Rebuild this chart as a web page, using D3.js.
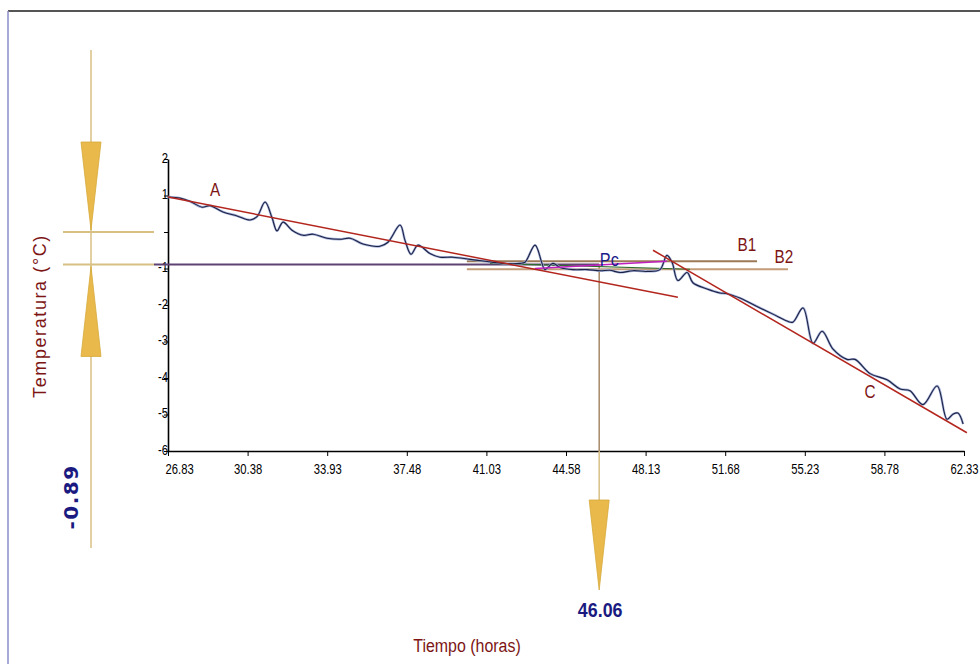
<!DOCTYPE html>
<html>
<head>
<meta charset="utf-8">
<script src="https://cdn.jsdelivr.net/npm/d3@7"></script>
<style>
  body { margin: 0; background: #fff; }
  svg { display: block; }
</style>
</head>
<body>
<div id="chart"></div>
<script>
var width = 980;
var height = 664;

// temperature record (hours, °C)
var tiempo = [26.83, 27.37, 27.81, 28.35, 28.70, 29.28, 29.91, 30.49, 30.80, 31.16,
    31.47, 31.69, 31.96, 32.36, 32.85, 33.30, 33.92, 34.50, 34.95, 35.53,
    36.28, 36.64, 37.18, 37.40, 37.67, 37.98, 38.51, 38.96, 39.54, 40.30,
    41.06, 41.77, 42.53, 42.75, 43.20, 43.51, 43.64, 44.00, 44.31, 44.89,
    45.52, 46.10, 46.54, 46.99, 47.57, 48.19, 48.77, 49.08, 49.31, 49.57,
    49.98, 50.24, 50.87, 51.45, 51.76, 52.34, 53.23, 53.81, 54.44, 54.70,
    55.15, 55.60, 56.00, 56.49, 57.11, 57.47, 58.14, 58.90, 59.48, 59.92,
    60.50, 61.13, 61.57, 61.84, 62.06, 62.29];
var temperatura = [0.96, 0.93, 0.84, 0.68, 0.72, 0.55, 0.44, 0.33, 0.42, 0.82,
    0.39, 0.03, 0.27, 0.05, -0.09, -0.06, -0.17, -0.20, -0.17, -0.33,
    -0.39, -0.28, 0.19, -0.23, -0.61, -0.36, -0.59, -0.69, -0.69, -0.75,
    -0.81, -0.86, -0.86, -0.83, -0.36, -0.86, -1.03, -0.86, -0.97, -1.03,
    -1.03, -1.06, -1.05, -1.11, -1.06, -1.08, -1.03, -0.64, -0.83, -1.33,
    -1.11, -1.39, -1.56, -1.67, -1.69, -1.81, -2.08, -2.25, -2.44, -2.47,
    -2.08, -3.05, -2.72, -3.21, -3.49, -3.49, -3.88, -4.05, -4.30, -4.35,
    -4.73, -4.22, -5.13, -4.99, -4.96, -5.26];

// fitted segments
var rectaA = [[26.83, 0.96], [49.57, -1.79]];
var rectaB1 = [[40.16, -0.80], [53.10, -0.80]];
var rectaB2 = [[40.16, -1.02], [54.48, -1.02]];
var rectaC = [[48.46, -0.50], [62.46, -5.50]];
var rectaMagenta = [[43.20, -1.00], [49.08, -0.80]];
var rectaVerde = [[41.19, -0.86], [50.11, -1.02]];

// critical point
var pcX = 46.06;
var pcY = -0.89;

var xTicks = [26.83, 30.38, 33.93, 37.48, 41.03, 44.58, 48.13, 51.68, 55.23, 58.78, 62.33];
var yTicks = [-6, -5, -4, -3, -2, -1, 0, 1, 2];

var svg = d3.select("#chart").append("svg")
    .attr("width", width)
    .attr("height", height);

var x = d3.scaleLinear().domain([26.83, 62.33]).range([168, 964]);
var y = d3.scaleLinear().domain([-6, 2]).range([451, 159]);

var font = "'Liberation Sans', Arial, sans-serif";

// frame
svg.append("line").attr("x1", 8).attr("x2", width).attr("y1", 11).attr("y2", 11)
    .attr("stroke", "#555").attr("stroke-width", 2);
svg.append("line").attr("x1", 8).attr("x2", 8).attr("y1", 11).attr("y2", height)
    .attr("stroke", "#8c8cc8").attr("stroke-width", 1.5);

// axes (narrow labels: squeeze horizontally)
var yAxis = svg.append("g")
    .attr("transform", "translate(" + x(26.83) + ",0)")
    .call(d3.axisLeft(y).tickValues(yTicks).tickSize(4).tickSizeOuter(0)
        .tickFormat(function(d){ return d === 0 ? "" : String(d); }));
yAxis.selectAll("text").attr("x", 0).attr("dy", "0.2em")
    .attr("font-family", font).attr("font-size", 15).attr("fill", "#000")
    .attr("transform", "translate(0,0) scale(0.75,1)");

var xAxis = svg.append("g")
    .attr("transform", "translate(0," + y(-6) + ")")
    .call(d3.axisBottom(x).tickValues(xTicks).tickSize(5).tickSizeOuter(0)
        .tickFormat(d3.format(".2f")));
xAxis.selectAll("text").attr("y", 8).attr("dy", "1em")
    .attr("font-family", font).attr("font-size", 15).attr("fill", "#000")
    .attr("transform", "scale(0.75,1)");
// first label sits to the right of its tick
xAxis.selectAll("text").filter(function(d){ return d === xTicks[0]; })
    .attr("text-anchor", "start").attr("x", -4);

svg.selectAll(".domain").attr("stroke", "#000").attr("stroke-width", 1.6);
svg.selectAll(".tick line").attr("stroke", "#000");

// left marker (gold)
var gold = "#d8c083";
var goldFill = "#e9b94c";
svg.append("line").attr("x1", 91).attr("x2", 91).attr("y1", 50).attr("y2", 548)
    .attr("stroke", gold).attr("stroke-width", 1.5);
svg.append("line").attr("x1", 63).attr("x2", 154).attr("y1", y(0)).attr("y2", y(0))
    .attr("stroke", gold).attr("stroke-width", 2);
svg.append("line").attr("x1", 63).attr("x2", 154).attr("y1", y(pcY)).attr("y2", y(pcY))
    .attr("stroke", gold).attr("stroke-width", 2);

function tri(cx, tipY, baseY, half) {
    return "M" + (cx - half) + "," + baseY + "L" + (cx + half) + "," + baseY + "L" + cx + "," + tipY + "Z";
}
svg.append("path").attr("d", tri(91, y(0) - 2, y(0) - 90, 10))
    .attr("fill", goldFill).attr("stroke", "#d6a93a").attr("stroke-width", 0.8);
svg.append("path").attr("d", tri(91, y(pcY) + 2, y(pcY) + 92, 10))
    .attr("fill", goldFill).attr("stroke", "#d6a93a").attr("stroke-width", 0.8);

// horizontal line at Pc temperature
svg.append("line").attr("x1", 154).attr("x2", x(pcX)).attr("y1", y(pcY)).attr("y2", y(pcY))
    .attr("stroke", "#5e4272").attr("stroke-width", 2);

// vertical line at Pc time
svg.append("line").attr("x1", x(pcX)).attr("x2", x(pcX)).attr("y1", y(pcY)).attr("y2", y(-6))
    .attr("stroke", "#a58866").attr("stroke-width", 1.5);
svg.append("line").attr("x1", x(pcX)).attr("x2", x(pcX)).attr("y1", y(-6)).attr("y2", 500)
    .attr("stroke", gold).attr("stroke-width", 1.5);
svg.append("path").attr("d", tri(x(pcX), 590, 500, 10))
    .attr("fill", goldFill).attr("stroke", "#d6a93a").attr("stroke-width", 0.8);

// fitted lines
var seg = d3.line().x(function(d){ return x(d[0]); }).y(function(d){ return y(d[1]); });
svg.append("path").attr("d", seg(rectaB1)).attr("fill", "none")
    .attr("stroke", "#9c7a58").attr("stroke-width", 2);
svg.append("path").attr("d", seg(rectaB2)).attr("fill", "none")
    .attr("stroke", "#c39c78").attr("stroke-width", 2);
svg.append("path").attr("d", seg(rectaVerde)).attr("fill", "none")
    .attr("stroke", "#2e6b2e").attr("stroke-width", 1.2);

// data line
var data = tiempo.map(function(t, i){ return [t, temperatura[i]]; });
var curve = d3.line().x(function(d){ return x(d[0]); }).y(function(d){ return y(d[1]); })
    .curve(d3.curveCatmullRom.alpha(0.5));
svg.append("path").attr("d", curve(data)).attr("fill", "none")
    .attr("stroke", "#a4b0d8").attr("stroke-width", 2.4).attr("stroke-linejoin", "round");
svg.append("path").attr("d", curve(data)).attr("fill", "none")
    .attr("stroke", "#1c2244").attr("stroke-width", 1.1).attr("stroke-linejoin", "round");

svg.append("path").attr("d", seg(rectaMagenta)).attr("fill", "none")
    .attr("stroke", "#c020c0").attr("stroke-width", 1.5);
svg.append("path").attr("d", seg(rectaA)).attr("fill", "none")
    .attr("stroke", "#b3261e").attr("stroke-width", 1.5);
svg.append("path").attr("d", seg(rectaC)).attr("fill", "none")
    .attr("stroke", "#b3261e").attr("stroke-width", 1.5);

// labels
var darkRed = "#7d1515";
function label(txt, lx, ly, col, size, sx) {
    return svg.append("text")
        .attr("transform", "translate(" + x(lx) + "," + y(ly) + ") scale(" + sx + ",1)")
        .attr("fill", col).attr("font-family", font).attr("font-size", size)
        .attr("text-anchor", "middle").text(txt);
}
label("A", 28.93, 1.0, darkRed, 18, 0.85);
label("B1", 52.65, -0.52, darkRed, 18, 0.85);
label("B2", 54.30, -0.85, darkRed, 18, 0.85);
label("C", 58.14, -4.55, darkRed, 18, 0.85);
label("Pc", pcX + 0.45, pcY - 0.03, "#1c1c8a", 19, 0.85);

// Pc values
svg.append("text").attr("transform", "translate(" + (x(pcX) + 1) + ",617) scale(0.85,1)")
    .attr("fill", "#1a1a80").attr("font-family", font).attr("font-weight", "bold")
    .attr("font-size", 21).attr("text-anchor", "middle").text(pcX.toFixed(2));
svg.append("text").attr("transform", "translate(78,497) rotate(-90)")
    .attr("fill", "#1a1a80").attr("font-family", "'DejaVu Sans', sans-serif")
    .attr("font-weight", "bold").attr("font-size", 20).attr("letter-spacing", 1.5)
    .attr("text-anchor", "middle").text(pcY.toFixed(2));

// axis titles
svg.append("text").attr("transform", "translate(46,316) rotate(-90)")
    .attr("fill", darkRed).attr("font-family", font)
    .attr("font-size", 18).attr("letter-spacing", 1.6).attr("text-anchor", "middle")
    .text("Temperatura (°C)");
svg.append("text").attr("transform", "translate(467,652) scale(0.84,1)")
    .attr("fill", darkRed).attr("font-family", font)
    .attr("font-size", 19).attr("text-anchor", "middle")
    .text("Tiempo (horas)");
</script>
</body>
</html>
